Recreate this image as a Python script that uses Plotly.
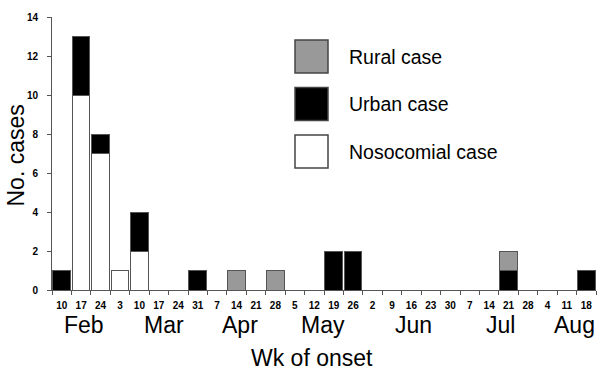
import plotly.graph_objects as go

weeks = ["10", "17", "24", "3", "10", "17", "24", "31", "7", "14", "21", "28",
         "5", "12", "19", "26", "2", "9", "16", "23", "30", "7", "14", "21", "28",
         "4", "11", "18"]
nosocomial = [0, 10, 7, 1, 2, 0, 0, 0, 0, 0, 0, 0, 0, 0, 0, 0, 0, 0, 0, 0, 0, 0, 0, 0, 0, 0, 0, 0]
urban =      [1, 3, 1, 0, 2, 0, 0, 1, 0, 0, 0, 0, 0, 0, 2, 2, 0, 0, 0, 0, 0, 0, 0, 1, 0, 0, 0, 1]
rural =      [0, 0, 0, 0, 0, 0, 0, 0, 0, 1, 0, 1, 0, 0, 0, 0, 0, 0, 0, 0, 0, 0, 0, 1, 0, 0, 0, 0]
months = ["Feb", "Mar", "Apr", "May", "Jun", "Jul", "Aug"]
month_pos = [1.15, 5.27, 9.19, 13.47, 18.1, 22.6, 26.4]

x = list(range(len(weeks)))
edge = "#555555"
font = "Liberation Sans, Arial, sans-serif"

fig = go.Figure()
fig.add_trace(go.Bar(x=x, y=nosocomial, name="Nosocomial case",
                     marker=dict(color="white", line=dict(color=edge, width=1))))
fig.add_trace(go.Bar(x=x, y=urban, name="Urban case",
                     marker=dict(color="black", line=dict(color=edge, width=1))))
fig.add_trace(go.Bar(x=x, y=rural, name="Rural case",
                     marker=dict(color="#999999", line=dict(color=edge, width=1))))

fig.update_layout(
    barmode="stack", bargap=0.1,
    width=600, height=372,
    margin=dict(l=52, r=4, t=17, b=82),
    plot_bgcolor="white", paper_bgcolor="white",
    showlegend=False,
    font=dict(family=font, color="black"),
)
fig.update_xaxes(
    range=[-0.5, 27.5], showline=True, linecolor=edge, linewidth=1,
    tickmode="array", tickvals=x, ticktext=weeks, ticks="",
    tickfont=dict(size=10, family=font, weight="bold"), showgrid=False, zeroline=False,
    ticklabelstandoff=6,
    minor=dict(tickmode="array", tickvals=[i - 0.5 for i in range(len(weeks) + 1)],
               ticks="outside", ticklen=4, tickcolor=edge, showgrid=False),
    automargin=False,
)
fig.update_yaxes(
    range=[0, 14], showline=True, linecolor=edge, linewidth=1,
    tickmode="array", tickvals=list(range(0, 15, 2)), ticks="outside", ticklen=4,
    tickcolor=edge, tickfont=dict(size=10, family=font, weight="bold"),
    ticklabelstandoff=7,
    showgrid=False, zeroline=False, automargin=False,
)

fig.add_annotation(x=0, y=0.5, xref="paper", yref="paper", text="No. cases",
                   showarrow=False, textangle=-90, xanchor="center", yanchor="middle",
                   xshift=-37, yshift=-2, font=dict(size=23, family=font))
for m, p in zip(months, month_pos):
    fig.add_annotation(x=p, y=0, xref="x", yref="paper", text=m, showarrow=False,
                       yanchor="middle", yshift=-35, font=dict(size=23, family=font))
fig.add_annotation(x=0.478, y=0, xref="paper", yref="paper", text="Wk of onset",
                   showarrow=False, yanchor="middle", yshift=-68,
                   font=dict(size=23, family=font))

# custom legend
legend_items = [("Rural case", "#999999"), ("Urban case", "black"), ("Nosocomial case", "white")]
top = 40
for i, (label, col) in enumerate(legend_items):
    y0 = top + i * 47.5
    fig.add_shape(type="rect", xref="paper", yref="paper",
                  x0=(295 - 52) / 544, x1=(328 - 52) / 544,
                  y0=1 - (y0 + 33 - 17) / 273, y1=1 - (y0 - 17) / 273,
                  fillcolor=col, line=dict(color="#444444", width=1.5))
    fig.add_annotation(x=(347 - 52) / 544, y=1 - (y0 + 16.5 - 17) / 273,
                       xref="paper", yref="paper", text=label, showarrow=False,
                       xanchor="left", yanchor="middle", font=dict(size=19.5, family=font))

fig.write_html("out.html", config={"displayModeBar": False},
               post_script="document.body.style.margin='0px';")
